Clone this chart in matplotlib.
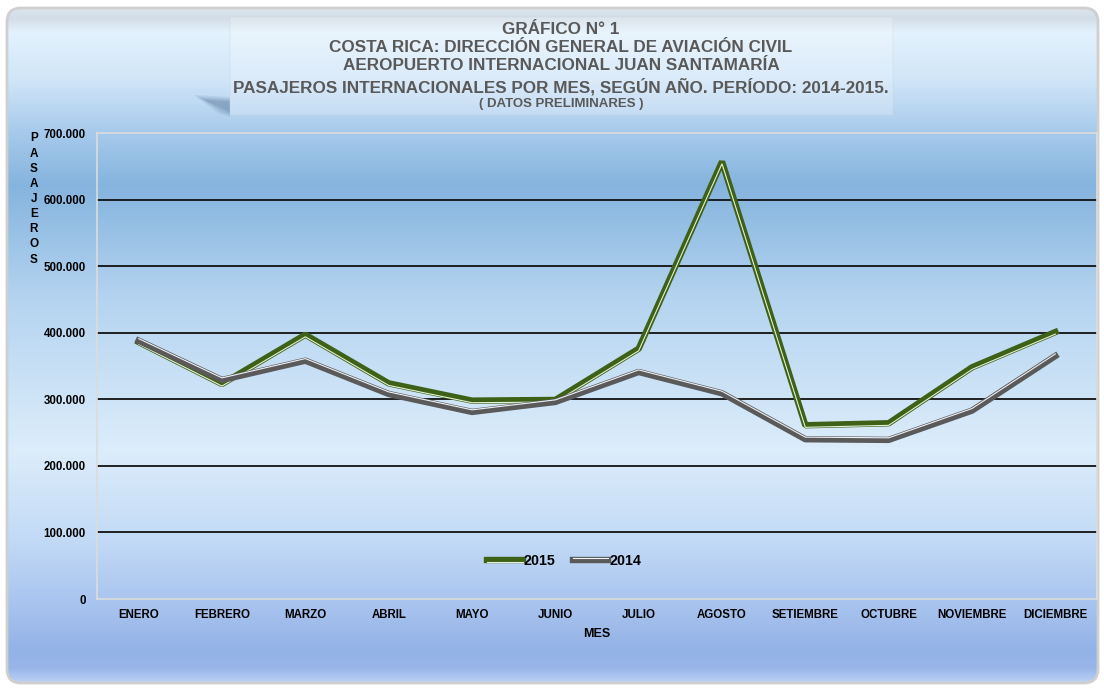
import numpy as np
import matplotlib
matplotlib.use("Agg")
import matplotlib.pyplot as plt
from matplotlib import patheffects as pe
from matplotlib.patches import FancyBboxPatch, Rectangle, Polygon
from matplotlib.ticker import FuncFormatter, MultipleLocator
from matplotlib.colors import to_rgb

months = ['ENERO', 'FEBRERO', 'MARZO', 'ABRIL', 'MAYO', 'JUNIO', 'JULIO',
          'AGOSTO', 'SETIEMBRE', 'OCTUBRE', 'NOVIEMBRE', 'DICIEMBRE']
pax_2015 = [386000, 323000, 397000, 324000, 298000, 299000, 376000,
            657000, 261000, 264000, 348000, 401000]
pax_2014 = [388000, 329000, 358000, 308000, 281000, 296000, 341000,
            309000, 240000, 239000, 283000, 365000]
title_lines = ['GRÁFICO N° 1',
               'COSTA RICA: DIRECCIÓN GENERAL DE AVIACIÓN CIVIL',
               'AEROPUERTO INTERNACIONAL JUAN SANTAMARÍA',
               'PASAJEROS INTERNACIONALES POR MES, SEGÚN AÑO. PERÍODO: 2014-2015.']
subtitle = '( DATOS PRELIMINARES )'

W, H = 1104, 689
plt.rcParams['font.family'] = ['Liberation Sans', 'DejaVu Sans']
fig = plt.figure(figsize=(W / 100, H / 100), dpi=100)
fig.patch.set_facecolor('white')

# ---- background gradient ----
bg = fig.add_axes([0, 0, 1, 1], zorder=-10)
bg.set_xlim(0, W)
bg.set_ylim(H, 0)
bg.axis('off')
stops = [(0, '#e4ecf4'), (18, '#d3dde7'), (32, '#e3f2fd'), (80, '#d0e5f8'),
         (130, '#a8cbec'), (185, '#85b4de'), (300, '#b5d4f0'), (450, '#dcedfb'),
         (540, '#c2daf6'), (600, '#aac5ef'), (650, '#93b2e6'), (668, '#99b6e9'),
         (680, '#b8cff3'), (689, '#d0dcf0')]
ys = np.arange(H)
sy = [s[0] for s in stops]
cols = np.array([to_rgb(s[1]) for s in stops])
grad = np.stack([np.interp(ys, sy, cols[:, k]) for k in range(3)], axis=-1)
img = np.repeat(grad[:, None, :], 8, axis=1)
im = bg.imshow(img, extent=(0, W, H, 0), aspect='auto', interpolation='bilinear')
frame = FancyBboxPatch((7, 8), W - 13, H - 14, boxstyle='round,pad=0,rounding_size=14',
                       transform=bg.transData, facecolor='none', edgecolor='#cfcfcf', lw=2)
bg.add_patch(frame)
im.set_clip_path(frame)

# title box + soft shadow
for i, a in enumerate([0.12, 0.12, 0.15, 0.18]):
    d = i * 1.5
    shadow = Polygon([(194 + d * 2, 95 + d), (230, 97 + d), (230, 117 - d), (218 + d, 113 - d)],
                     closed=True, facecolor='#4f6f92', alpha=a, edgecolor='none',
                     transform=bg.transData)
    bg.add_patch(shadow)
tbox = Rectangle((230, 17), 663, 98, facecolor='white', alpha=0.22,
                 edgecolor='#c9d3dd', lw=1.2, transform=bg.transData)
bg.add_patch(tbox)

title_font = ['Liberation Sans Narrow', 'Liberation Sans', 'DejaVu Sans']
for txt, yy in zip(title_lines, [29, 47, 66, 87]):
    bg.text(561, yy, txt, ha='center', va='center', fontsize=12.3, fontweight='bold',
            color='#595959', family=title_font)
bg.text(561, 104, subtitle, ha='center', va='center', fontsize=9.5, fontweight='bold',
        color='#595959', family=title_font)

# ---- main axes ----
ax = fig.add_axes([97 / W, 1 - 599 / H, 1000 / W, 466 / H])
ax.set_facecolor('none')
x = np.arange(len(months))

green = '#3d6117'
gray = '#5a5a5a'
eff_2015 = [pe.Stroke(linewidth=4.6, foreground=green),
            pe.Stroke(linewidth=0.8, foreground='#e4f0d4', offset=(0, -1.5))]
eff_2014 = [pe.Stroke(linewidth=4.6, foreground=gray),
            pe.Stroke(linewidth=0.8, foreground='#eef0f6', offset=(0, 1.5))]
ax.plot(x, pax_2015, color=green, lw=4.6, label='2015', path_effects=eff_2015,
        solid_joinstyle='bevel', zorder=3)
ax.plot(x, pax_2014, color=gray, lw=4.6, label='2014', path_effects=eff_2014,
        solid_joinstyle='bevel', zorder=4)

ax.set_xlim(-0.5, len(months) - 0.5)
ax.set_ylim(0, 700000)
ax.yaxis.set_major_locator(MultipleLocator(100000))
ax.yaxis.set_major_formatter(FuncFormatter(lambda v, p: f'{v:,.0f}'.replace(',', '.')))
ax.set_xticks(x)
ax.set_xticklabels(months)
for gy in range(100000, 700000, 100000):
    ax.axhline(gy, color='#111111', lw=1.3, zorder=1)
ax.tick_params(axis='both', length=0, labelsize=8.3)
ax.tick_params(axis='y', pad=8)
ax.tick_params(axis='x', pad=7)
for lab in ax.get_xticklabels() + ax.get_yticklabels():
    lab.set_fontweight('bold')
for sp in ax.spines.values():
    sp.set_color('#dcdcdc')
    sp.set_linewidth(1.2)
ax.set_xlabel('MES', fontsize=9, fontweight='bold', labelpad=5)

fig.text(34 / W, 1 - 199 / H, '\n'.join('PASAJEROS'), ha='center', va='center',
         fontsize=8.5, fontweight='bold', linespacing=1.35)

leg = ax.legend(loc='center', bbox_to_anchor=(0.467, 0.0815), ncol=2, frameon=False,
                fontsize=10.3, handlelength=2.5, handletextpad=0.05, columnspacing=1.2)
for t in leg.get_texts():
    t.set_fontweight('bold')

fig.savefig('out.png', dpi=100)
